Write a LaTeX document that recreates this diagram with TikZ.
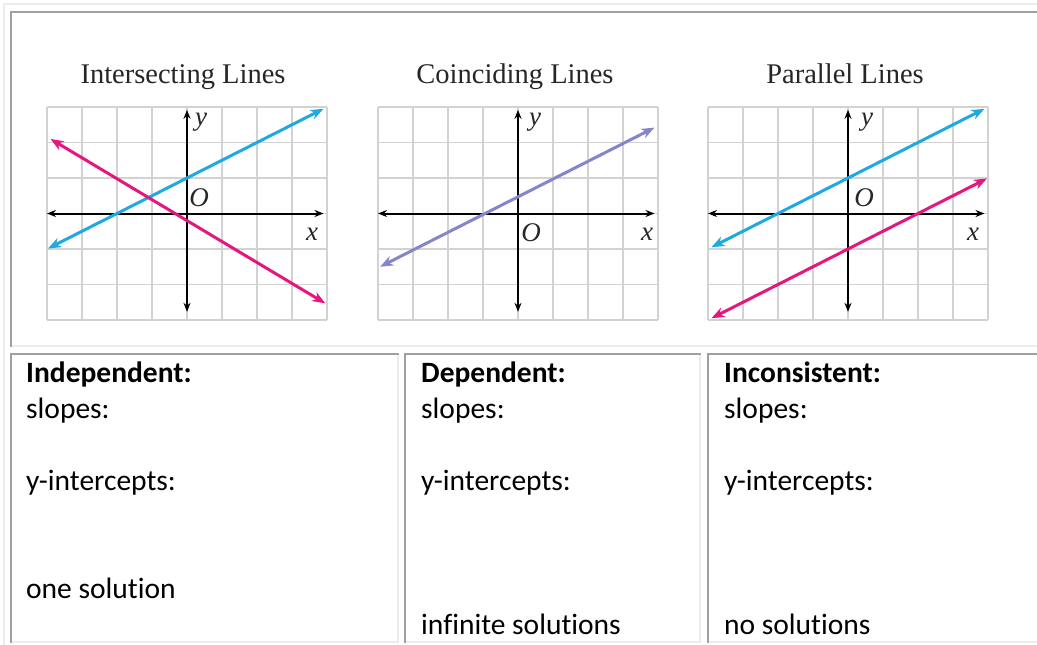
\documentclass[tikz,border=0pt]{standalone}
\usepackage{fontspec}
\setmainfont{Liberation Serif}
\newfontfamily\calfont[Ligatures=NoCommon]{Carlito}
\usetikzlibrary{arrows.meta}
\definecolor{lblue}{HTML}{1EA9E1}
\definecolor{lmag}{HTML}{E5177E}
\definecolor{lpur}{HTML}{8585C9}
\definecolor{bdark}{HTML}{A0A0A0}
\definecolor{blight}{HTML}{ECECEC}
\definecolor{gridc}{HTML}{D2D2D2}
\tikzset{
  gridline/.style={gridc, line width=1.5pt},
  axisline/.style={black, line width=2pt, {Stealth[length=9pt,width=7pt]}-{Stealth[length=9pt,width=7pt]}},
  gline/.style={line width=3pt, {Stealth[length=13pt,width=10pt,inset=4pt]}-{Stealth[length=13pt,width=10pt,inset=4pt]}},
  titletxt/.style={font=\fontsize{28.5}{31}\selectfont, anchor=base, text=black!85, inner sep=0pt},
  alab/.style={font=\fontsize{27}{29}\selectfont\itshape, text=black!85, inner sep=0pt},
  celltxt/.style={font=\calfont\fontsize{29.5}{36}\selectfont, anchor=base west, inner sep=0pt},
  cellbold/.style={celltxt, font=\calfont\bfseries\fontsize{29.5}{36}\selectfont},
}
\newcommand\panelgrid[1]{%
\begin{scope}[shift={(#1pt,-213.5pt)}, x=35pt, y=35.5pt]
  \foreach \i in {-4,...,4} \draw[gridline] (\i,-3) -- (\i,3);
  \foreach \j in {-3,...,3} \draw[gridline] (-4,\j) -- (4,\j);
  \draw[axisline] (-4,0) -- (3.9,0);
  \draw[axisline] (0,-2.77) -- (0,2.92);
\end{scope}}
\begin{document}
\begin{tikzpicture}[x=1pt, y=-1pt]
\useasboundingbox (0,0) rectangle (1037,645);
\fill[white] (0,0) rectangle (1037,645);
% table borders
\fill[blight] (3,3) rectangle (1037,5);
\fill[blight] (3,3) rectangle (5,645);
\fill[bdark] (10,11) rectangle (1037,13);
\fill[bdark] (10,11) rectangle (12,347);
\fill[blight] (12,345) rectangle (1037,347);
\fill[bdark] (10,353) rectangle (399,355);
\fill[bdark] (10,353) rectangle (12,643);
\fill[blight] (397,355) rectangle (399,643);
\fill[blight] (12,641) rectangle (399,643);
\fill[bdark] (404,353) rectangle (701,355);
\fill[bdark] (404,353) rectangle (406,643);
\fill[blight] (699,355) rectangle (701,643);
\fill[blight] (406,641) rectangle (701,643);
\fill[bdark] (707,353) rectangle (1037,355);
\fill[bdark] (707,353) rectangle (709,643);
\fill[blight] (709,641) rectangle (1037,643);

% titles
\node[titletxt] (t1) at (183,83) {Intersecting Lines};
\node[titletxt] (t2) at (515,83) {Coinciding Lines};
\node[titletxt] (t3) at (845,83) {Parallel Lines};

% graphs
\panelgrid{187}
\panelgrid{518}
\panelgrid{848}

\begin{scope}[shift={(187pt,-213.5pt)}, x=35pt, y=35.5pt]
  \draw[gline, lblue] (-3.97,-0.985) -- (3.9,2.95);
  \draw[gline, lmag] (-3.9,2.10) -- (3.95,-2.53);
\end{scope}
\begin{scope}[shift={(518pt,-213.5pt)}, x=35pt, y=35.5pt]
  \draw[gline, lpur] (-3.94,-1.5) -- (3.9,2.42);
\end{scope}
\begin{scope}[shift={(848pt,-213.5pt)}, x=35pt, y=35.5pt]
  \draw[gline, lblue] (-3.9,-0.95) -- (3.9,2.95);
  \draw[gline, lmag] (-3.9,-2.95) -- (3.97,0.985);
\end{scope}

% axis labels
\node[alab] (y1) at (201,122) {y};
\node[alab] (o1) at (199,198) {O};
\node[alab] (x1) at (312,234) {x};
\node[alab] (y2) at (535,122) {y};
\node[alab] (o2) at (531,233) {O};
\node[alab] (x2) at (647,234) {x};
\node[alab] (y3) at (867,122) {y};
\node[alab] (o3) at (864,198) {O};
\node[alab] (x3) at (973,234) {x};

% cell texts
\node[cellbold] (h1) at (26,382) {Independent:};
\node[celltxt] (s1) at (26,418) {slopes:};
\node[celltxt] (i1) at (26,490) {y-intercepts:};
\node[celltxt] (r1) at (26,598) {one solution};
\node[cellbold] (h2) at (421,382) {Dependent:};
\node[celltxt] (s2) at (421,418) {slopes:};
\node[celltxt] (i2) at (421,490) {y-intercepts:};
\node[celltxt] (r2) at (421,634) {infinite solutions};
\node[cellbold] (h3) at (724,382) {Inconsistent:};
\node[celltxt] (s3) at (724,418) {slopes:};
\node[celltxt] (i3) at (724,490) {y-intercepts:};
\node[celltxt] (r3) at (724,634) {no solutions};
\end{tikzpicture}
\end{document}
